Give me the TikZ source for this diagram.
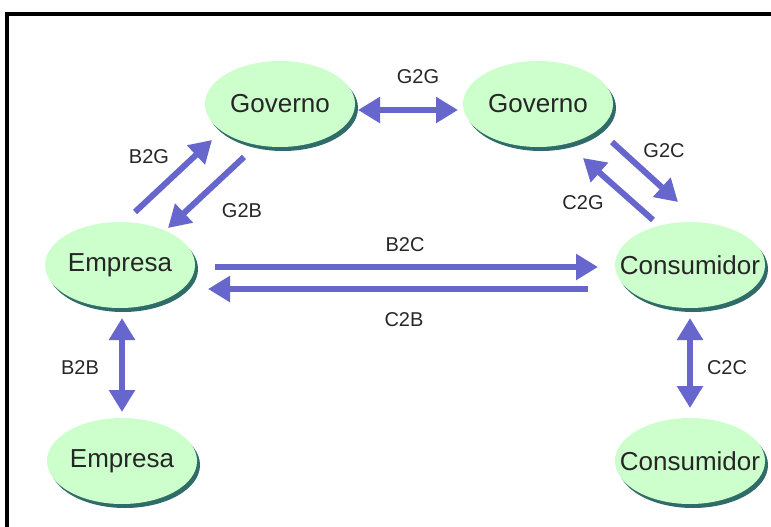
\documentclass[tikz,border=0pt]{standalone}
\usepackage{fontspec}
\setmainfont{Liberation Sans}
\usetikzlibrary{arrows.meta, calc, shapes.geometric, shadows}
\definecolor{vert}{HTML}{CCFFCC}
\definecolor{ombre}{HTML}{2F6B68}
\definecolor{fleche}{HTML}{6666CC}

\begin{document}
\begin{tikzpicture}[x=1pt,y=-1pt,
    acteur/.style={ellipse, fill=vert, minimum width=150pt, minimum height=86pt, inner sep=0pt,
      drop shadow={shadow xshift=3pt, shadow yshift=-4pt, fill=ombre, opacity=1},
      font=\fontsize{26}{30}\selectfont, text=black!85},
    lien/.style={line width=6pt, color=fleche, -{Triangle[length=22pt,width=25pt]}},
    liens/.style={lien, {Triangle[length=22pt,width=25pt]}-{Triangle[length=22pt,width=25pt]}},
    etiq/.style={font=\fontsize{20}{24}\selectfont, text=black!85}]
  \useasboundingbox (0,0) rectangle (771,527);
  \draw[line width=4pt] (6.5,529) -- (6.5,14) -- (773,14); % le cadre

  % les acteurs
  \node[acteur] at (280,104) (gov1) {\makebox[0pt]{Governo}};
  \node[acteur] at (538,104) (gov2) {\makebox[0pt]{Governo}};
  \node[acteur] at (120,265) (emp1) {\makebox[0pt]{Empresa}};
  \node[acteur] at (690,265) (con1) {\makebox[0pt]{Consumidor}};
  \node[acteur] at (122,461) (emp2) {\makebox[0pt]{Empresa}};
  \node[acteur] at (690,461) (con2) {\makebox[0pt]{Consumidor}};

  % les relations
  \draw[liens] ($(gov1)+(78,6)$) -- ($(gov2)+(-80,6)$);
  \draw[lien] ($(emp1)+(15,-53)$) -- ($(gov1)+(-68,36)$);
  \draw[lien] ($(gov1)+(-36,53)$) -- ($(emp1)+(48,-37)$);
  \draw[lien] ($(gov2)+(74,38)$) -- ($(con1)+(-12,-63)$);
  \draw[lien] ($(con1)+(-37,-45)$) -- ($(gov2)+(45,54)$);
  \draw[lien] ($(emp1)+(95,2)$) -- ($(con1)+(-92,2)$);
  \draw[lien] ($(con1)+(-102,24)$) -- ($(emp1)+(88,24)$);
  \draw[liens] ($(emp1)+(2,53)$) -- ($(emp2)+(0,-49)$);
  \draw[liens] ($(con1)+(0,53)$) -- ($(con2)+(0,-53)$);

  \node[etiq] at (418,77) (g2g) {G2G};
  \node[etiq] at (149,157) (b2g) {B2G};
  \node[etiq] at (242,211) (g2b) {G2B};
  \node[etiq] at (664,151) (g2c) {G2C};
  \node[etiq] at (583,203) (c2g) {C2G};
  \node[etiq] at (405,245) (b2c) {B2C};
  \node[etiq] at (404,320) (c2b) {C2B};
  \node[etiq] at (80,368) (b2b) {B2B};
  \node[etiq] at (727,368) (c2c) {C2C};
\end{tikzpicture}
\end{document}
